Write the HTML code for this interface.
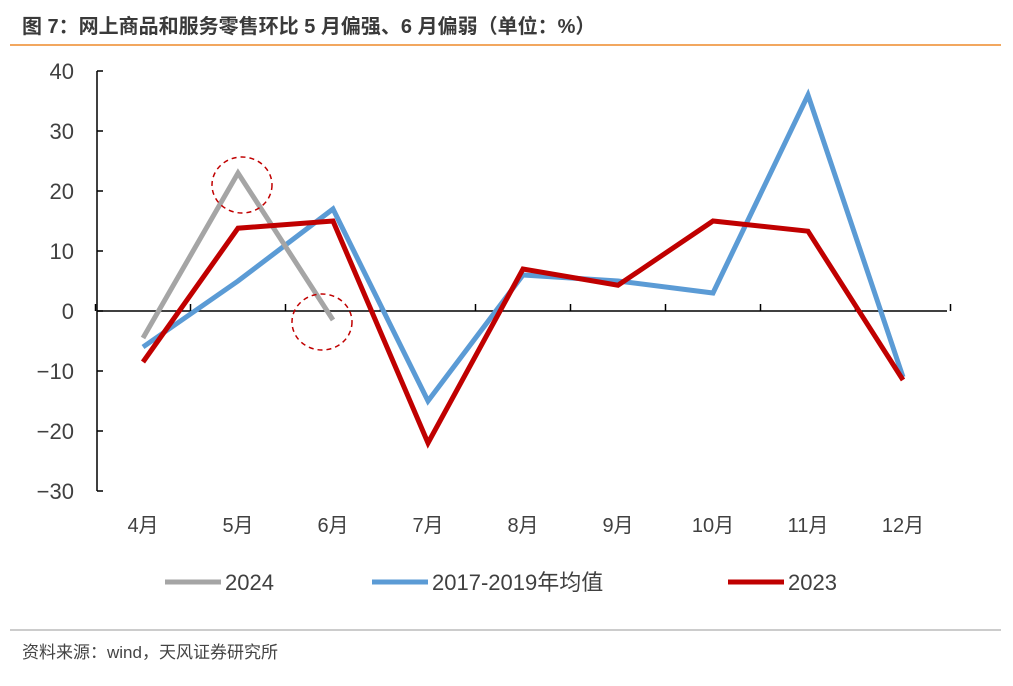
<!DOCTYPE html>
<html><head><meta charset="utf-8"><style>
body{margin:0;background:#fff;width:1013px;height:681px;overflow:hidden;font-family:"Liberation Sans","Noto Sans CJK SC",sans-serif}
</style></head><body>
<svg width="1013" height="681">
<text x="22" y="33" font-size="20" font-weight="bold" fill="#3a3a3a" font-family="Liberation Sans,Noto Sans CJK SC,sans-serif">图 7：网上商品和服务零售环比 5 月偏强、6 月偏弱（单位：%）</text>
<line x1="10" y1="45" x2="1001" y2="45" stroke="#ee8a2a" stroke-width="1.5"/>
<g id="plot"></g>
<line x1="10" y1="630" x2="1001" y2="630" stroke="#999" stroke-width="1"/>
<text x="22" y="658" font-size="17" fill="#444" font-family="Liberation Sans,Noto Sans CJK SC,sans-serif">资料来源：wind，天风证券研究所</text>
</svg>
<script>
const categories=["4月","5月","6月","7月","8月","9月","10月","11月","12月"];
const yTicks=[40,30,20,10,0,-10,-20,-30];
const s2024=[-4.5,23,-1.5];
const sAvg=[-6,5,17,-15,6,5,3,36,-11];
const s2023=[-8.5,13.8,15,-22,7,4.3,15,13.3,-11.5];
const seriesNames=["2024","2017-2019年均值","2023"];
const NS="http://www.w3.org/2000/svg";
const g=document.getElementById('plot');
const x=i=>143+i*95;
const y=v=>311-v*6;
function mk(t,a){const e=document.createElementNS(NS,t);for(const k in a)e.setAttribute(k,a[k]);g.appendChild(e);return e;}
let ax=mk('line',{x1:97,y1:y(40),x2:97,y2:y(-30),stroke:'#000','stroke-width':1.5});


yTicks.forEach(v=>{
 let t=mk('line',{x1:97,y1:y(v),x2:103,y2:y(v),stroke:'#000','stroke-width':1.5});
 
 
 let l=mk('text',{x:74,y:y(v)+8,'font-size':22,fill:'#404040','text-anchor':'end'});
 l.textContent=(v<0?'−':'')+Math.abs(v);
 
 
});
let xa=mk('line',{x1:97,y1:y(0),x2:947,y2:y(0),stroke:'#000','stroke-width':1.5});


for(let i=0;i<=categories.length;i++){
 let t=mk('line',{x1:x(i)-47.5,y1:y(0)-7,x2:x(i)-47.5,y2:y(0),stroke:'#000','stroke-width':1.5});
 
 
}
categories.forEach((c,i)=>{
 let l=mk('text',{x:x(i),y:532,'font-size':20,fill:'#404040','text-anchor':'middle'});
 l.textContent=c;
 
 
});
function line(data,color,name){
 let p=mk('polyline',{points:data.map((v,i)=>x(i)+','+y(v)).join(' '),fill:'none',stroke:color,'stroke-width':5,'stroke-linejoin':'miter'});
 
 
}
line(sAvg,'#5b9bd5','line-2017-2019-avg');
line(s2024,'#a5a5a5','line-2024');
line(s2023,'#c00000','line-2023');
[[242,185],[322,322]].forEach(([cx,cy])=>{
 let c=mk('ellipse',{cx:cx,cy:cy,rx:30,ry:28,fill:'none',stroke:'#c00000','stroke-width':1.5,'stroke-dasharray':'5,4'});
 
 
});
const legendColors=['#a5a5a5','#5b9bd5','#c00000'];
const legendX=[165,372,728];
seriesNames.forEach((n,i)=>{
 let l=mk('line',{x1:legendX[i],y1:582,x2:legendX[i]+56,y2:582,stroke:legendColors[i],'stroke-width':5});
 
 
 let t=mk('text',{x:legendX[i]+60,y:590,'font-size':22,fill:'#404040'});
 t.textContent=n;
 
 
});
</script>
</body></html>
